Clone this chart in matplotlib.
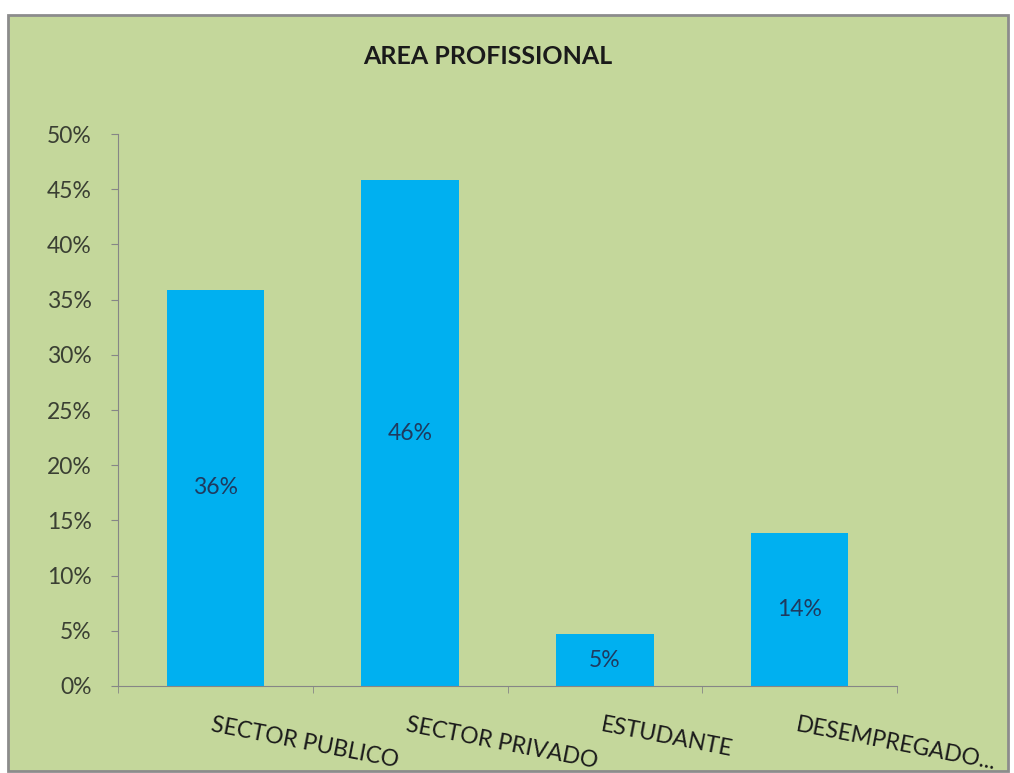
import matplotlib.pyplot as plt
import numpy as np
from matplotlib.patches import Rectangle
from matplotlib.ticker import PercentFormatter

# data
categories = ["SECTOR PUBLICO", "SECTOR PRIVADO", "ESTUDANTE", "DESEMPREGADO..."]
values = [0.359, 0.458, 0.047, 0.139]
bar_labels = ["36%", "46%", "5%", "14%"]
yticks = [0, 0.05, 0.10, 0.15, 0.20, 0.25, 0.30, 0.35, 0.40, 0.45, 0.50]

plt.rcParams['font.family'] = ['Lato', 'DejaVu Sans']

W, H = 1014, 773
fig = plt.figure(figsize=(W / 100, H / 100), dpi=100, facecolor='white')

# green chart area with grey border, behind the axes
bg = Rectangle((8 / W, 0.003), (1008 - 8) / W, (H - 15) / H - 0.003,
               transform=fig.transFigure, facecolor='#C4D79B',
               edgecolor='#8C8C8C', linewidth=2, zorder=-1)
fig.add_artist(bg)

ax = fig.add_axes([118 / W, (H - 686) / H, (897 - 118) / W, (686 - 134) / H])
ax.set_facecolor('none')

x = np.arange(len(categories))
ax.bar(x, values, width=0.5, color='#00B0F0', zorder=2)
for xi, v, lab in zip(x, values, bar_labels):
    ax.text(xi, v / 2, lab, ha='center', va='center', fontsize=16.5,
            color='#1F3A5F', zorder=3)

ax.set_xlim(-0.5, len(categories) - 0.5)
ax.set_ylim(0, 0.5)
ax.set_yticks(yticks)
ax.yaxis.set_major_formatter(PercentFormatter(1.0, decimals=0))
ax.tick_params(axis='y', labelsize=16.5, labelcolor='#3A3F33', color='#868686',
               length=5, direction='out', pad=14)

# ticks at category boundaries, labels at the centres
ax.set_xticks(np.arange(-0.5, len(categories)), minor=True)
ax.set_xticks(x)
ax.set_xticklabels([])
ax.tick_params(axis='x', which='major', length=0)
ax.tick_params(axis='x', which='minor', length=5, color='#868686', direction='out')
for xi, cat in zip(x, categories):
    ax.annotate(cat, xy=(xi, 0), xycoords=('data', 'axes fraction'),
                xytext=(-2, -28), textcoords='offset pixels',
                ha='left', va='top', rotation=-11, rotation_mode='anchor',
                fontsize=16.5, color='#1A1A1A')

for s in ['top', 'right']:
    ax.spines[s].set_visible(False)
ax.spines['left'].set_color('#868686')
ax.spines['bottom'].set_color('#868686')

fig.text(488 / W, 1 - 56 / H, "AREA PROFISSIONAL", ha='center', va='center',
         fontsize=18, fontweight='bold', color='#1A1A1A')

fig.savefig('out.png', dpi=100, facecolor=fig.get_facecolor())
